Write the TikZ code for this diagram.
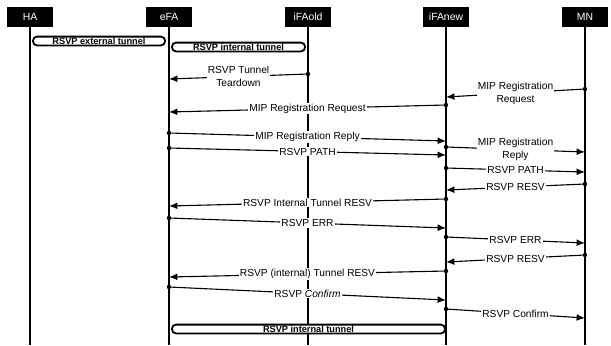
\documentclass[tikz,border=0pt]{standalone}
\usepackage{fontspec}
\setmainfont{Liberation Sans}
\usetikzlibrary{arrows.meta,positioning}

\tikzset{
  entity/.style={fill=black, text=white, minimum width=23pt, minimum height=10pt, inner sep=0pt, font=\fontsize{5.2}{6}\selectfont},
  lifeline/.style={line width=0.9pt},
  msg/.style={line width=0.55pt, -{Latex[length=4.2pt,width=3.4pt]}},
  msglbl/.style={fill=white, inner sep=0.6pt, align=center, font=\fontsize{5.1}{6.4}\selectfont},
  tunnel/.style={draw, line width=0.9pt, rounded corners=2pt, fill=white, minimum height=4.4pt, inner sep=0.4pt, font=\bfseries\fontsize{4.6}{5}\selectfont},
}

\begin{document}
\begin{tikzpicture}[x=0.5pt,y=-0.5pt]
\useasboundingbox (0,0) rectangle (611,345);

% entities and lifelines
\foreach \name/\xpos/\txt in {ha/30/HA, efa/169/eFA, ifaold/308/iFAold, ifanew/446/iFAnew, mn/585/MN}{
  \node[entity] (\name) at (\xpos,17) {\txt};
  \coordinate (\name end) at (\xpos,345);
  \draw[lifeline] (\name.south) -- (\name end);
}

% tunnels
\node[tunnel, minimum width=66pt] (tunext) at (99,41) {RSVP external tunnel};
\node[tunnel, minimum width=66.5pt] (tunold) at (238.5,47) {RSVP internal tunnel};
\node[tunnel, minimum width=136.5pt] (tunnew) at (308.5,329) {RSVP internal tunnel};

% messages
\foreach \fx/\fy/\tx/\ty/\txt [count=\i] in {
  308/74/169/79/{RSVP Tunnel\\Teardown},
  585/89/446/97/{MIP Registration\\Request},
  446/105/169/112/{MIP Registration Request},
  169/133/446/141/{MIP Registration Reply},
  446/147/585/152/{MIP Registration\\Reply},
  169/148/446/155/{RSVP PATH},
  446/168/585/172/{RSVP PATH},
  585/184/446/190/{RSVP RESV},
  446/199/169/206/{RSVP Internal Tunnel RESV},
  169/218/446/228/{RSVP ERR},
  446/237/585/243/{RSVP ERR},
  585/255/446/262/{RSVP RESV},
  446/271/169/277/{RSVP (internal) Tunnel RESV},
  169/287/446/300/{RSVP \textit{Confirm}},
  446/309/585/318/{RSVP Confirm}}{
  \coordinate (src\i) at (\fx,\fy);
  \coordinate (dst\i) at (\tx,\ty);
  \fill (src\i) circle (1.1pt);
  \draw[msg] (src\i) -- node[msglbl] (lbl\i) {\txt} (dst\i);
}
\end{tikzpicture}
\end{document}
